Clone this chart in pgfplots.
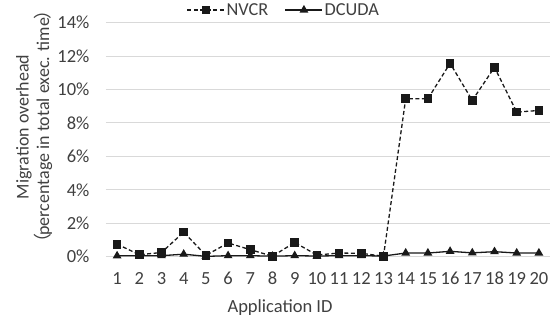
\documentclass[border=0pt]{standalone}
\usepackage{pgfplots}
\pgfplotsset{compat=1.18}
\usepackage{fontspec}
\setmainfont{Carlito}
\newfontfamily\cjk{Noto Sans CJK SC}
\definecolor{txt}{HTML}{404040}
\definecolor{grd}{HTML}{D9D9D9}
\begin{document}
\begin{tikzpicture}
\begin{axis}[
  at={(0,0)}, anchor=south west,
  scale only axis, width=444pt, height=234pt,
  xmin=0.5, xmax=20.5, ymin=0, ymax=14,
  xtick={1,...,20}, ytick={0,2,...,14},
  yticklabel={\pgfmathprintnumber{\tick}\%},
  axis line style={draw=none},
  ymajorgrids, grid style={grd, line width=1pt},
  major tick length=0,
  clip=false,
  /pgf/number format/assume math mode=true,
  tick label style={font=\fontsize{18.5}{22}\selectfont, text=txt},
  xticklabel style={yshift=-12pt},
  yticklabel style={xshift=-13pt},
  xlabel={Application ID},
  xlabel style={font=\fontsize{18.5}{22}\selectfont, text=txt, at={(axis description cs:0.392,-0.218)}, anchor=center},
  ylabel={Migration overhead\\\kern-0.45em{\cjk （}\kern-0.1em percentage in total exec. time\kern-0.1em{\cjk ）}\kern-0.45em},
  ylabel style={font=\fontsize{18}{20.5}\selectfont, text=txt, align=center, at={(axis description cs:-0.162,0.555)}, anchor=center},
  legend style={at={(axis description cs:0.40,1.054)}, anchor=center, draw=none, fill=none,
    legend columns=2, font=\fontsize{18.3}{20}\selectfont, text=txt,
    nodes={inner xsep=1.5pt}},
  legend image code/.code={\draw[mark repeat=2,mark phase=2] plot coordinates {(0pt,0pt) (18.5pt,0pt) (37pt,0pt)};},
]
\addplot[color=black!90, dash pattern=on 4pt off 2.5pt, line width=1.3pt, mark=square*, mark size=3.7pt, mark options={solid}] coordinates {
(1,0.75) (2,0.12) (3,0.25) (4,1.47) (5,0.08) (6,0.82) (7,0.42) (8,0.03) (9,0.85) (10,0.1)
(11,0.22) (12,0.2) (13,0.03) (14,9.45) (15,9.45) (16,11.57) (17,9.35) (18,11.33) (19,8.65) (20,8.75)};
\addlegendentry{NVCR\rule{15pt}{0pt}}
\addplot[color=black!90, line width=1.3pt, mark=triangle*, mark size=3.8pt, mark options={solid}] coordinates {
(1,0.05) (2,0.06) (3,0.06) (4,0.15) (5,0.02) (6,0.06) (7,0.06) (8,0.03) (9,0.06) (10,0.04)
(11,0.06) (12,0.06) (13,0.04) (14,0.22) (15,0.22) (16,0.32) (17,0.23) (18,0.3) (19,0.22) (20,0.22)};
\addlegendentry{DCUDA}
\end{axis}
\pgfresetboundingbox
\path[use as bounding box] (-106pt,-66pt) rectangle (446pt,256.7pt);
\end{tikzpicture}
\end{document}
